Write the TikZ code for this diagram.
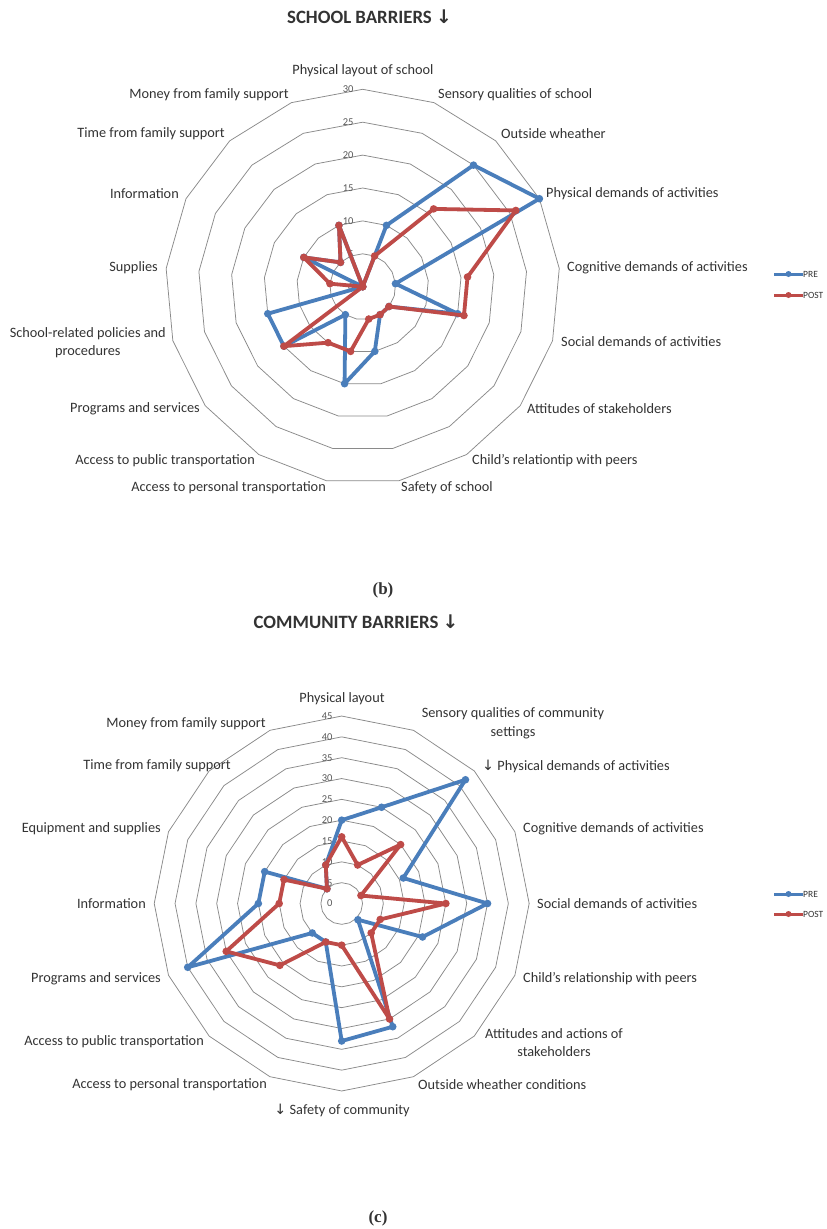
\documentclass[tikz,border=0pt]{standalone}
\usepackage{fontspec}
\setmainfont{Carlito}
\newfontfamily\symfont{DejaVu Sans}
\newfontfamily\capfont{Liberation Serif}
\usetikzlibrary{calc}

\definecolor{preblue}{HTML}{4A7EBB}
\definecolor{postred}{HTML}{BE4B48}
\definecolor{gridgray}{HTML}{8A8A8A}
\definecolor{inkgray}{HTML}{333333}
\definecolor{tickgray}{HTML}{595959}

% downward arrow glyph
\newcommand{\dnarrow}{{\symfont\char"2193}}

\tikzset{
  ring/.style={draw=gridgray, line width=0.75pt, line join=round},
  series/.style={line width=3.8pt, line join=round, line cap=round},
  dot/.style={circle, inner sep=0pt, minimum size=7.6pt, draw=none},
  axlabel/.style={font=\fontsize{14.3}{18.5}\selectfont, text=inkgray, inner sep=0pt, align=center},
  ticklab/.style={font=\fontsize{10.5}{12}\selectfont, text=tickgray, inner sep=0pt, anchor=east},
  legtext/.style={font=\fontsize{9.5}{11}\selectfont, text=inkgray, inner sep=0pt, anchor=west},
  legline/.style={line width=3pt},
  charttitle/.style={font=\bfseries\fontsize{18.8}{22}\selectfont, text=inkgray, inner sep=0pt},
  panel/.style={font=\capfont\bfseries\fontsize{17}{20}\selectfont, text=inkgray, inner sep=0pt},
}

\begin{document}
\begin{tikzpicture}[x=1pt,y=1pt]
\useasboundingbox (0,0) rectangle (827,-1229);
\fill[white] (0,0) rectangle (827,-1229);

% ---------------- School barriers ----------------
\node[charttitle] (schoolTitle) at (369.5,-16.5) {SCHOOL BARRIERS \dnarrow};

\begin{scope}[shift={(362.7,-286.7)}]
  \foreach \k in {1,...,6}
    \draw[ring] (90:\k*32.9) \foreach \i in {1,...,16} { -- ({90-\i*360/17}:\k*32.9) } -- cycle;
  \foreach \t [count=\k from 0] in {0,5,...,30}
    \node[ticklab] (sTick\k) at (-9,\k*32.9) {\t};

  \foreach \v [count=\i from 0] in {0,10,25,30,5,15,5,5,10,15,5,15,15,0,10,5,10}
    \coordinate (sPre\i) at ({90-\i*360/17}:\v*6.58);
  \foreach \v [count=\i from 0] in {0,5,16,26,16,16,5,5,5,10,10,15,0,5,10,5,10}
    \coordinate (sPost\i) at ({90-\i*360/17}:\v*6.58);

  \draw[series, preblue] (sPre0) \foreach \i in {1,...,16} { -- (sPre\i) } -- cycle;
  \foreach \i in {0,...,16} \node[dot, fill=preblue] (sPreDot\i) at (sPre\i) {};
  \draw[series, postred] (sPost0) \foreach \i in {1,...,16} { -- (sPost\i) } -- cycle;
  \foreach \i in {0,...,16} \node[dot, fill=postred] (sPostDot\i) at (sPost\i) {};
\end{scope}

\node[axlabel] (sL0) at (363,-71) {Physical layout of school};
\node[axlabel, anchor=west] (sL1) at (438,-95) {Sensory qualities of school};
\node[axlabel, anchor=west] (sL2) at (501,-134) {Outside wheather};
\node[axlabel, anchor=west] (sL3) at (546,-194) {Physical demands of activities};
\node[axlabel, anchor=west] (sL4) at (567,-268) {Cognitive demands of activities};
\node[axlabel, anchor=west] (sL5) at (561,-342) {Social demands of activities};
\node[axlabel, anchor=west] (sL6) at (527,-409) {Attitudes of stakeholders};
\node[axlabel, anchor=west] (sL7) at (472,-461) {Child's relationtip with peers};
\node[axlabel, anchor=west] (sL8) at (401,-488) {Safety of school};
\node[axlabel, anchor=east] (sL9) at (326,-488) {Access to personal transportation};
\node[axlabel, anchor=east] (sL10) at (255,-461) {Access to public transportation};
\node[axlabel, anchor=east] (sL11) at (200,-409) {Programs and services};
\node[axlabel, anchor=east] (sL12) at (166,-342.5) {School-related policies and\\procedures};
\node[axlabel, anchor=east] (sL13) at (158,-268) {Supplies};
\node[axlabel, anchor=east] (sL14) at (179,-194) {Information};
\node[axlabel, anchor=east] (sL15) at (225,-134) {Time from family support};
\node[axlabel, anchor=east] (sL16) at (289,-95) {Money from family support};

% legend
\node[legtext] (sLegPre) at (803,-274) {PRE};
\node[legtext] (sLegPost) at (803,-295) {POST};
\coordinate (sLegPreA) at (774,-274);
\coordinate (sLegPostA) at (774,-295);
\draw[legline, preblue] (sLegPreA) -- (sLegPre.west);
\draw[legline, postred] (sLegPostA) -- (sLegPost.west);
\node[dot, fill=preblue, minimum size=6pt] (sLegPreDot) at ($(sLegPreA)!0.5!(sLegPre.west)$) {};
\node[dot, fill=postred, minimum size=6pt] (sLegPostDot) at ($(sLegPostA)!0.5!(sLegPost.west)$) {};

\node[panel] (panelB) at (383,-590) {(b)};

% ---------------- Community barriers ----------------
\node[charttitle] (commTitle) at (356,-622) {COMMUNITY BARRIERS \dnarrow};

\begin{scope}[shift={(341.7,-903.5)}]
  \foreach \k in {1,...,9}
    \draw[ring] (90:\k*20.83) \foreach \i in {1,...,15} { -- ({90-\i*22.5}:\k*20.83) } -- cycle;
  \foreach \t [count=\k from 0] in {0,5,...,45}
    \node[ticklab] (cTick\k) at (-9,\k*20.83) {\t};

  \foreach \v [count=\i from 0] in {20,25,42,16,35,21,5.5,32,33,10,10,40,20,20,5,10}
    \coordinate (cPre\i) at ({90-\i*22.5}:\v*4.167);
  \foreach \v [count=\i from 0] in {16,10,20,5,25,10,10,30,10,10,21,30,15,15,5,10}
    \coordinate (cPost\i) at ({90-\i*22.5}:\v*4.167);

  \draw[series, preblue] (cPre0) \foreach \i in {1,...,15} { -- (cPre\i) } -- cycle;
  \foreach \i in {0,...,15} \node[dot, fill=preblue] (cPreDot\i) at (cPre\i) {};
  \draw[series, postred] (cPost0) \foreach \i in {1,...,15} { -- (cPost\i) } -- cycle;
  \foreach \i in {0,...,15} \node[dot, fill=postred] (cPostDot\i) at (cPost\i) {};
\end{scope}

\node[axlabel] (cL0) at (342,-699) {Physical layout};
\node[axlabel] (cL1) at (513,-723.5) {Sensory qualities of community\\settings};
\node[axlabel, anchor=west] (cL2) at (482,-766) {\dnarrow\ Physical demands of activities};
\node[axlabel, anchor=west] (cL3) at (523,-829) {Cognitive demands of activities};
\node[axlabel, anchor=west] (cL4) at (537,-904) {Social demands of activities};
\node[axlabel, anchor=west] (cL5) at (523,-979) {Child's relationship with peers};
\node[axlabel] (cL6) at (554,-1042.5) {Attitudes and actions of\\stakeholders};
\node[axlabel, anchor=west] (cL7) at (418,-1085) {Outside wheather conditions};
\node[axlabel] (cL8) at (342,-1110) {\dnarrow\ Safety of community};
\node[axlabel, anchor=east] (cL9) at (267,-1085) {Access to personal transportation};
\node[axlabel, anchor=east] (cL10) at (204,-1042) {Access to public transportation};
\node[axlabel, anchor=east] (cL11) at (161,-979) {Programs and services};
\node[axlabel, anchor=east] (cL12) at (146,-904) {Information};
\node[axlabel, anchor=east] (cL13) at (161,-829) {Equipment and supplies};
\node[axlabel, anchor=east] (cL14) at (231,-766) {Time from family support};
\node[axlabel, anchor=east] (cL15) at (266,-724) {Money from family support};

% legend
\node[legtext] (cLegPre) at (803,-894) {PRE};
\node[legtext] (cLegPost) at (803,-914) {POST};
\coordinate (cLegPreA) at (774,-894);
\coordinate (cLegPostA) at (774,-914);
\draw[legline, preblue] (cLegPreA) -- (cLegPre.west);
\draw[legline, postred] (cLegPostA) -- (cLegPost.west);
\node[dot, fill=preblue, minimum size=6pt] (cLegPreDot) at ($(cLegPreA)!0.5!(cLegPre.west)$) {};
\node[dot, fill=postred, minimum size=6pt] (cLegPostDot) at ($(cLegPostA)!0.5!(cLegPost.west)$) {};

\node[panel] (panelC) at (378,-1218) {(c)};
\end{tikzpicture}
\end{document}
